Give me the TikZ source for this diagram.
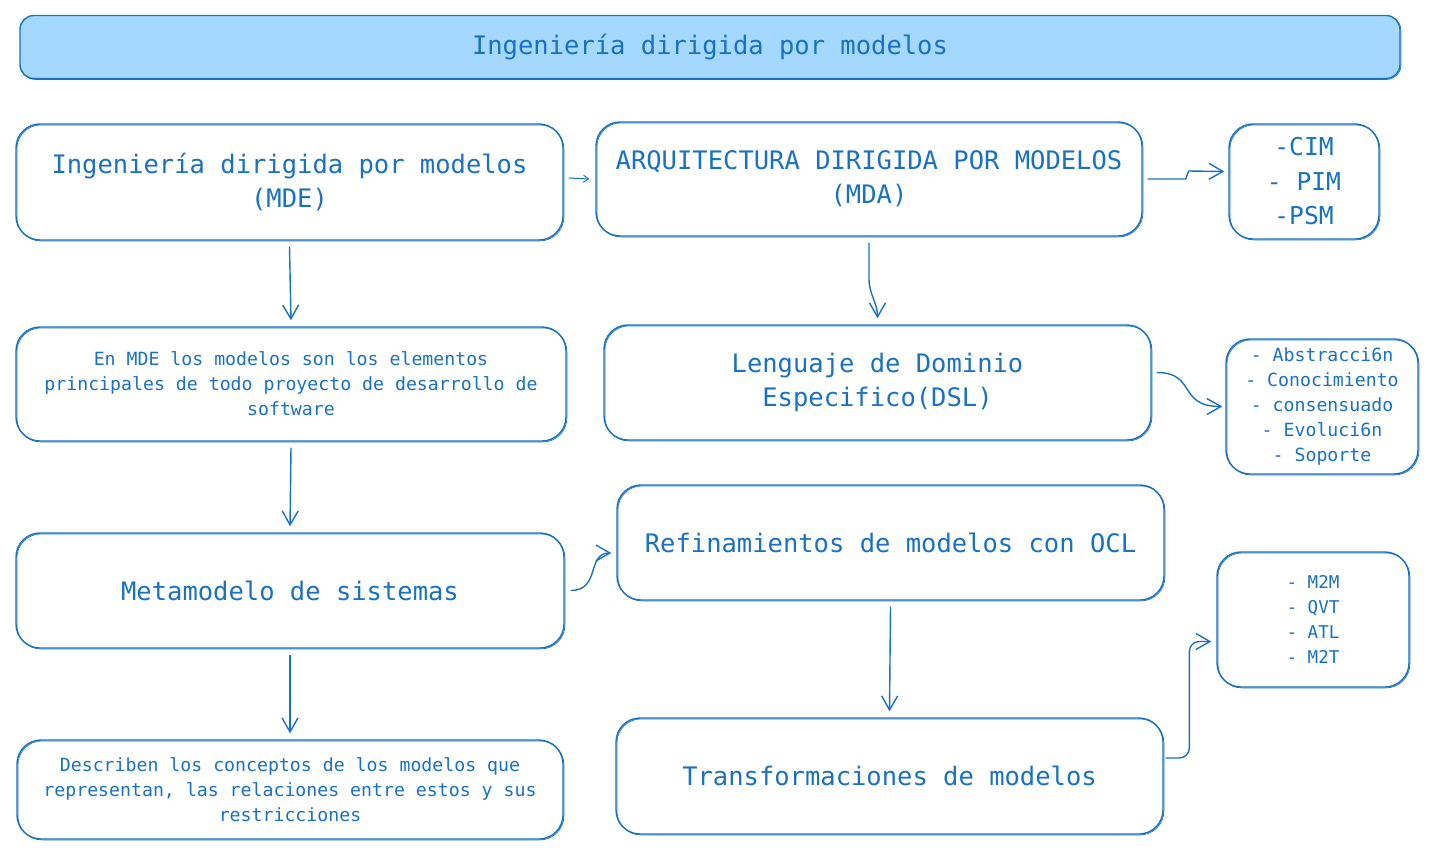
\documentclass[tikz,border=0pt]{standalone}
\usepackage{fontspec}
\newfontfamily\hand{DejaVu Sans Mono}
\usetikzlibrary{arrows.meta,calc}
\definecolor{exblue}{HTML}{1971C2}
\definecolor{exfill}{HTML}{A5D8FF}
\tikzset{
  sketch/.style={draw=exblue, line width=1.4pt, rounded corners=24pt,
    preaction={draw=exblue, line width=0.7pt, transform canvas={shift={(0.9pt,-0.9pt)}}}},
  bx/.style={sketch, inner sep=0pt, align=center, text=exblue},
  big/.style={font=\hand\fontsize{25.5}{34}\selectfont},
  small/.style={font=\hand\fontsize{18.2}{25}\selectfont},
  arr/.style={draw=exblue, line width=1.4pt, -{Straight Barb[length=14pt,width=16pt,line width=1.4pt]}},
}
\begin{document}
\begin{tikzpicture}[x=1pt,y=-1pt]
\useasboundingbox (0,0) rectangle (1435,854);
% title
\node[bx, big, fill=exfill, minimum width=1380, minimum height=63, rounded corners=14pt] (title) at (710,47) {Ingeniería dirigida por modelos};
% left column
\node[bx, big, minimum width=547, minimum height=116] (mde) at (289.5,182) {Ingeniería dirigida por modelos\\(MDE)};
\node[bx, small, minimum width=550, minimum height=114] (enmde) at (291,384) {En MDE los modelos son los elementos\\principales de todo proyecto de desarrollo de\\software};
\node[bx, big, minimum width=548, minimum height=115] (meta) at (290,590.5) {Metamodelo de sistemas};
\node[bx, small, minimum width=546, minimum height=99] (desc) at (290,789.5) {Describen los conceptos de los modelos que\\representan, las relaciones entre estos y sus\\restricciones};
% middle column
\node[bx, big, minimum width=546, minimum height=114] (mda) at (869,179) {ARQUITECTURA DIRIGIDA POR MODELOS\\(MDA)};
\node[bx, big, minimum width=547, minimum height=115] (dsl) at (877.5,382.5) {Lenguaje de Dominio\\Especifico(DSL)};
\node[bx, big, minimum width=547, minimum height=115] (refi) at (890.5,542.5) {Refinamientos de modelos con OCL};
\node[bx, big, minimum width=547, minimum height=116] (trans) at (889.5,776) {Transformaciones de modelos};
% right column
\node[bx, font=\hand\fontsize{24.6}{34.5}\selectfont, minimum width=150, minimum height=115] (cim) at (1304,181.5) {-CIM\\- PIM\\-PSM};
\node[bx, small, minimum width=192, minimum height=135] (abs) at (1322,406.5) {- Abstracci6n\\- Conocimiento\\- consensuado\\- Evoluci6n\\- Soporte};
\node[bx, font=\hand\fontsize{17.6}{25}\selectfont, minimum width=192, minimum height=135] (m2m) at (1313,619.5) {- M2M\\- QVT\\- ATL\\- M2T};
% connectors
\draw[arr, -{Straight Barb[length=5pt,width=7pt,line width=1pt]}, line width=1pt] ([xshift=5pt,yshift=4pt]mde.east) -- ([xshift=-6pt]mda.west);
\draw[arr] ([xshift=5pt]mda.east) -- ++(38,0) -- ++(3,-8) -- ([xshift=-4pt,yshift=10pt]cim.west);
\draw[arr] ([yshift=-6pt]mde.south) -- ([yshift=6pt]enmde.north);
\draw[arr] ([yshift=-6pt]mda.south) -- ++(0,36) to[out=-90,in=90] ([yshift=6pt]dsl.north);
\draw[arr] ([xshift=5pt,yshift=10pt]dsl.east) .. controls +(40,0) and +(-45,0) .. ([xshift=-3pt]abs.west);
\draw[arr] ([yshift=-6pt]enmde.south) -- ([yshift=6pt]meta.north);
\draw[arr] ([xshift=6pt]meta.east) .. controls +(30,0) and +(-25,0) .. ([xshift=-5pt,yshift=-10.5pt]refi.west);
\draw[arr] ([yshift=-6pt]meta.south) -- ([yshift=6pt]desc.north);
\draw[arr] ([yshift=-6pt]refi.south) -- ([yshift=6pt]trans.north);
\draw[arr, rounded corners=10pt] ([xshift=2pt,yshift=18pt]trans.east) -| ([xshift=-27pt,yshift=-22pt]m2m.west) -- ([xshift=-5pt,yshift=-22pt]m2m.west);
\end{tikzpicture}
\end{document}
